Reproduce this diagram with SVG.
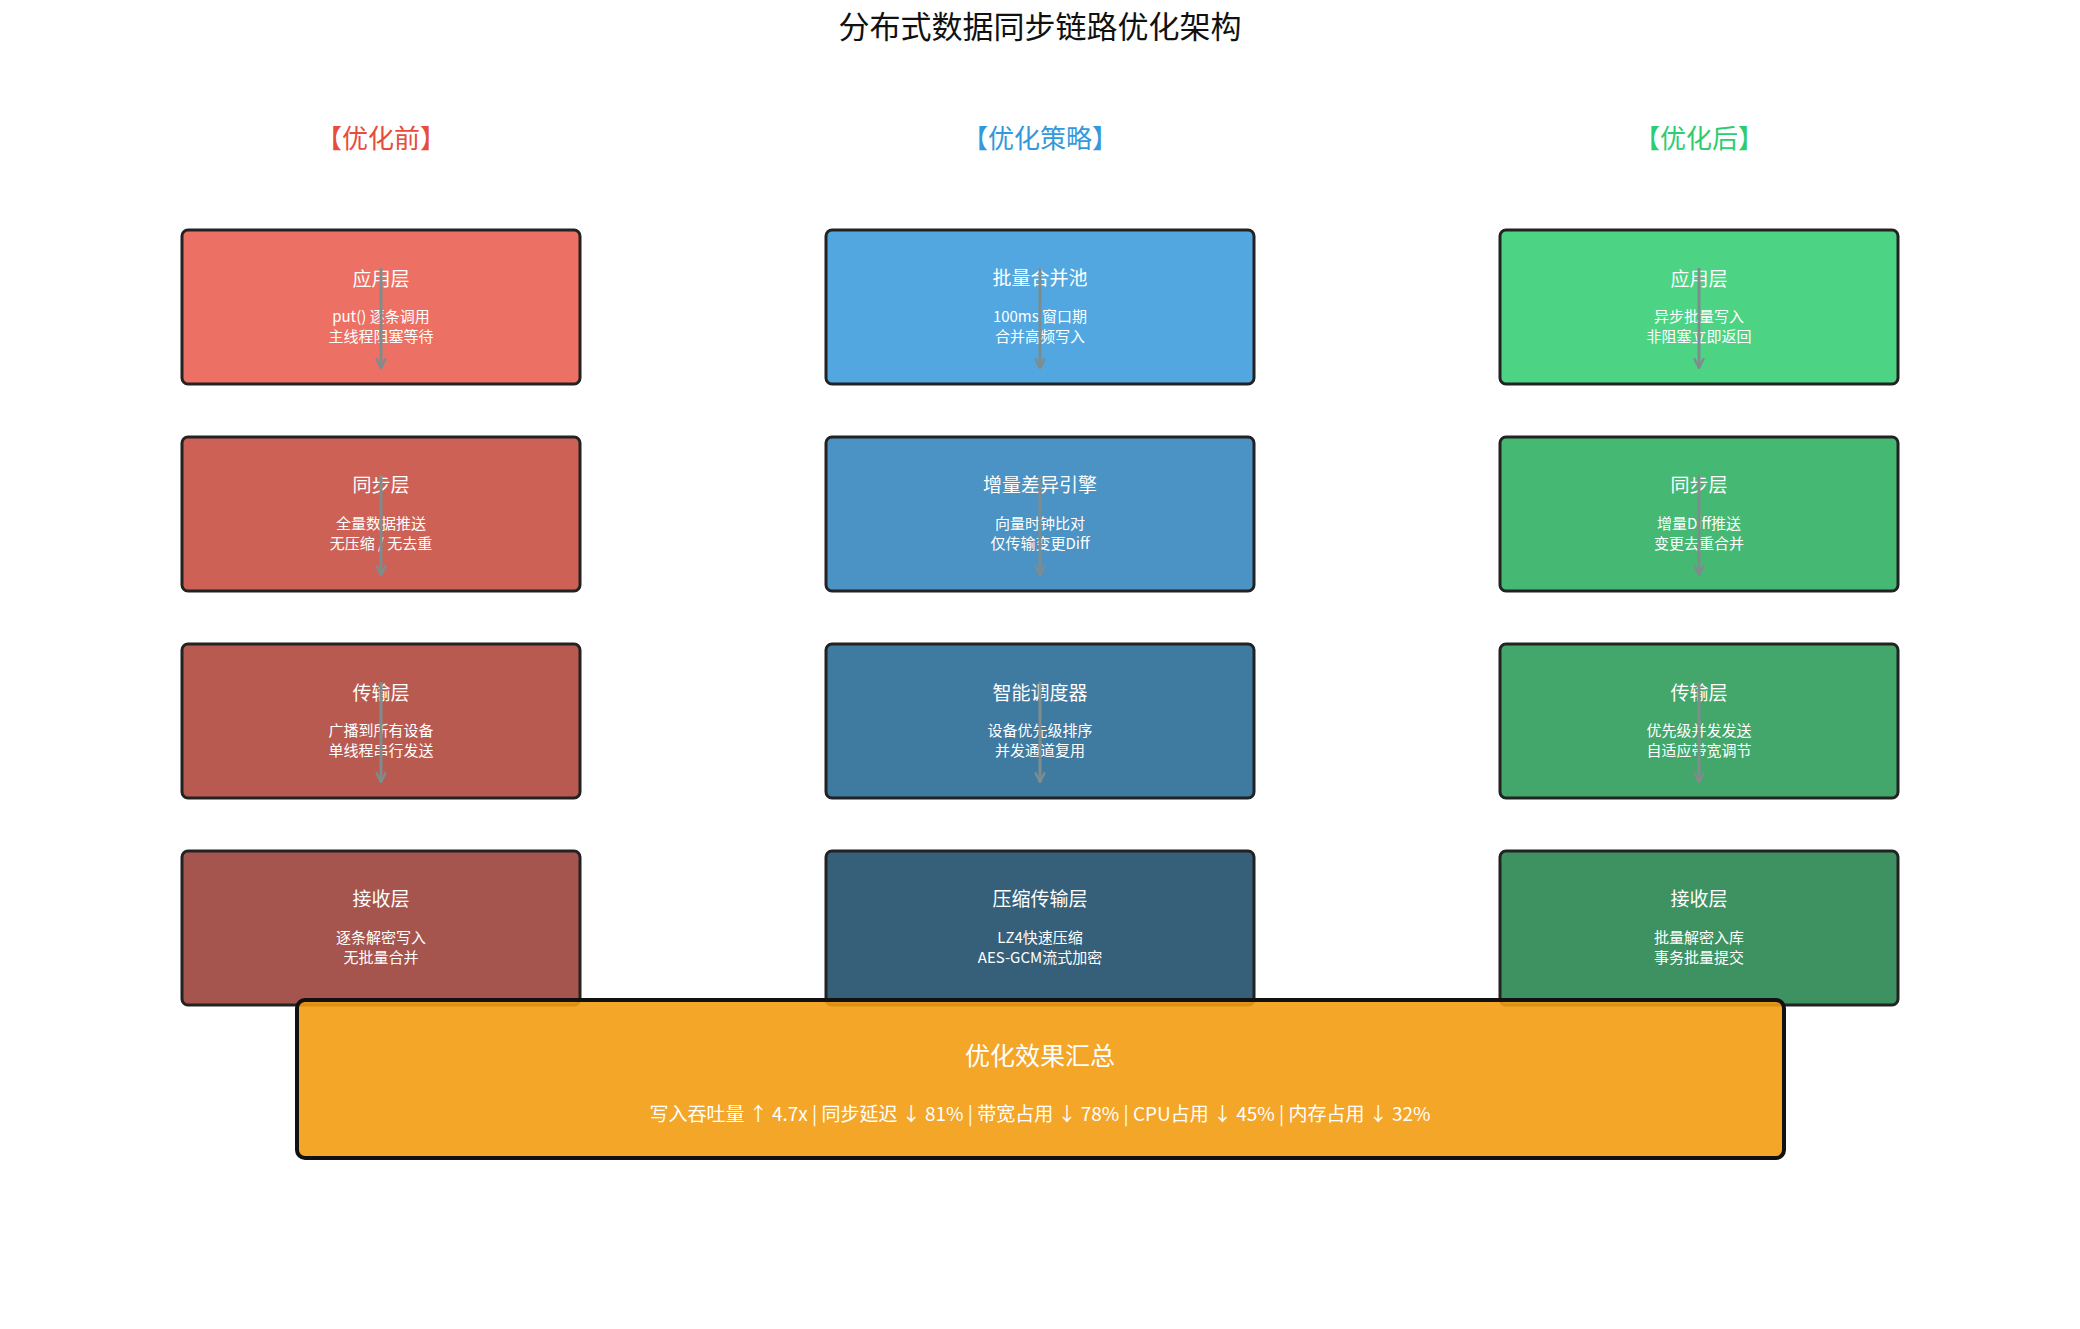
<svg xmlns="http://www.w3.org/2000/svg" width="2080" height="1329" viewBox="0 0 2080 1329">
<style>
text{font-family:"Noto Sans CJK SC","DejaVu Sans",sans-serif;text-anchor:middle}
.box{stroke:#222;stroke-width:3}
.t{fill:#fff;font-size:19px}
.s{fill:#fff;font-size:15px}
.h{font-size:26px}
.c{stroke:#7f8c8d;stroke-width:3;fill:none;marker-end:url(#ah)}
</style>
<defs><marker id="ah" viewBox="0 0 10 10" refX="9" refY="5" markerWidth="4" markerHeight="4" orient="auto"><path d="M1,1 L9,5 L1,9" fill="none" stroke="#7f8c8d" stroke-width="2"/></marker></defs>
<rect width="2080" height="1329" fill="#fff"/>
<text x="1040" y="38" font-size="31" fill="#111">分布式数据同步链路优化架构</text>
<text class="h" x="381" y="148" fill="#e74c3c">【优化前】</text>
<text class="h" x="1040" y="148" fill="#3498db">【优化策略】</text>
<text class="h" x="1699" y="148" fill="#2ecc71">【优化后】</text>
<g id="b1"><rect class="box" x="182" y="230" width="398" height="154" rx="6" fill="#ec7063"/><text class="t" x="381" y="286">应用层</text><text class="s" x="381" y="322">put() 逐条调用</text><text class="s" x="381" y="342">主线程阻塞等待</text></g>
<g id="b2"><rect class="box" x="182" y="437" width="398" height="154" rx="6" fill="#cd6155"/><text class="t" x="381" y="492">同步层</text><text class="s" x="381" y="529">全量数据推送</text><text class="s" x="381" y="549">无压缩 / 无去重</text></g>
<g id="b3"><rect class="box" x="182" y="644" width="398" height="154" rx="6" fill="#b95a50"/><text class="t" x="381" y="700">传输层</text><text class="s" x="381" y="736">广播到所有设备</text><text class="s" x="381" y="756">单线程串行发送</text></g>
<g id="b4"><rect class="box" x="182" y="851" width="398" height="154" rx="6" fill="#a5554d"/><text class="t" x="381" y="906">接收层</text><text class="s" x="381" y="943">逐条解密写入</text><text class="s" x="381" y="963">无批量合并</text></g>
<g id="m1"><rect class="box" x="826" y="230" width="428" height="154" rx="6" fill="#52a7e0"/><text class="t" x="1040" y="285">批量合并池</text><text class="s" x="1040" y="322">100ms 窗口期</text><text class="s" x="1040" y="342">合并高频写入</text></g>
<g id="m2"><rect class="box" x="826" y="437" width="428" height="154" rx="6" fill="#4a93c4"/><text class="t" x="1040" y="492">增量差异引擎</text><text class="s" x="1040" y="529">向量时钟比对</text><text class="s" x="1040" y="549">仅传输变更Diff</text></g>
<g id="m3"><rect class="box" x="826" y="644" width="428" height="154" rx="6" fill="#3f7aa0"/><text class="t" x="1040" y="700">智能调度器</text><text class="s" x="1040" y="736">设备优先级排序</text><text class="s" x="1040" y="756">并发通道复用</text></g>
<g id="m4"><rect class="box" x="826" y="851" width="428" height="154" rx="6" fill="#365f7a"/><text class="t" x="1040" y="906">压缩传输层</text><text class="s" x="1040" y="943">LZ4快速压缩</text><text class="s" x="1040" y="963">AES-GCM流式加密</text></g>
<g id="a1"><rect class="box" x="1500" y="230" width="398" height="154" rx="6" fill="#4cd384"/><text class="t" x="1699" y="286">应用层</text><text class="s" x="1699" y="322">异步批量写入</text><text class="s" x="1699" y="342">非阻塞立即返回</text></g>
<g id="a2"><rect class="box" x="1500" y="437" width="398" height="154" rx="6" fill="#45b873"/><text class="t" x="1699" y="492">同步层</text><text class="s" x="1699" y="529">增量Diff推送</text><text class="s" x="1699" y="549">变更去重合并</text></g>
<g id="a3"><rect class="box" x="1500" y="644" width="398" height="154" rx="6" fill="#43a76b"/><text class="t" x="1699" y="700">传输层</text><text class="s" x="1699" y="736">优先级并发发送</text><text class="s" x="1699" y="756">自适应带宽调节</text></g>
<g id="a4"><rect class="box" x="1500" y="851" width="398" height="154" rx="6" fill="#3e9262"/><text class="t" x="1699" y="906">接收层</text><text class="s" x="1699" y="943">批量解密入库</text><text class="s" x="1699" y="963">事务批量提交</text></g>
<g id="connectors">
<path class="c" d="M381 268V368"/><path class="c" d="M381 475V575"/><path class="c" d="M381 682V782"/>
<path class="c" d="M1040 268V368"/><path class="c" d="M1040 475V575"/><path class="c" d="M1040 682V782"/>
<path class="c" d="M1699 268V368"/><path class="c" d="M1699 475V575"/><path class="c" d="M1699 682V782"/>
</g>
<g id="summary"><rect x="297" y="1000" width="1487" height="158" rx="8" fill="#f39c12" fill-opacity="0.9" stroke="#111" stroke-width="4"/><text x="1040" y="1065" font-size="25" fill="#fff">优化效果汇总</text><text x="1040" y="1121" font-size="19" fill="#fff">写入吞吐量 ↑ 4.7x  |  同步延迟 ↓ 81%  |  带宽占用 ↓ 78%  |  CPU占用 ↓ 45%  |  内存占用 ↓ 32%</text></g>
</svg>
